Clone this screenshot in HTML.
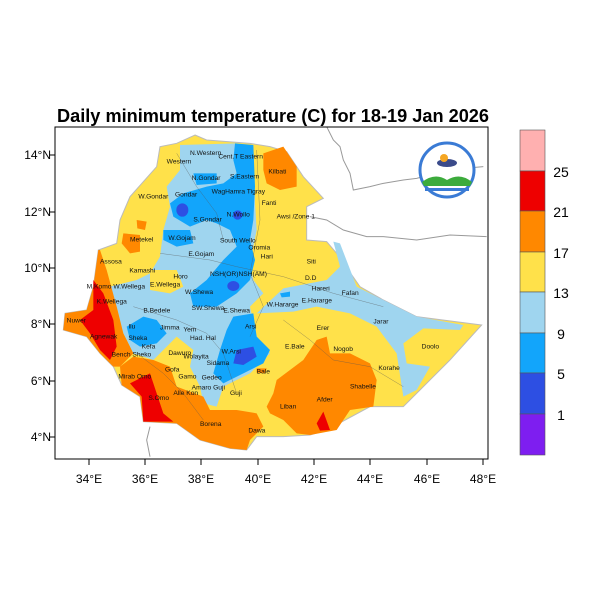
<!DOCTYPE html>
<html><head><meta charset="utf-8"><style>
html,body{margin:0;padding:0;background:#fff;width:600px;height:600px;overflow:hidden}
svg{display:block}
text{font-family:"Liberation Sans",Arial,sans-serif}
</style></head><body>
<svg width="600" height="600" viewBox="0 0 600 600">
<text x="273" y="122" font-size="18" font-weight="bold" text-anchor="middle" textLength="432" lengthAdjust="spacingAndGlyphs">Daily minimum temperature (C) for 18-19 Jan 2026</text>
<g transform="translate(50 120) scale(0.33333)" stroke="none">
<g fill="none" stroke="#999" stroke-width="3">
<path d="M830,20 L850,60 870,80 880,120 900,160 910,210 960,200 1000,190 1060,180 1100,175 1190,150 1300,140"/>
<path d="M780,290 L830,300 880,330 950,350 1000,350 1100,360 1200,345 1310,350"/>
<path d="M300,920 L290,960 300,1010"/>
</g>
<path fill="#ffe14a" stroke="#bbb" stroke-width="3" d="M435,45 L470,60 600,70 660,80 710,95 760,170 820,235 770,260 770,360 830,365 860,400 930,500 1000,540 1100,590 1295,615 1200,720 1110,810 1060,860 960,860 830,930 780,945 700,950 620,950 590,990 540,985 450,960 380,910 280,905 270,830 215,795 190,740 150,700 110,650 40,630 45,580 110,570 130,500 145,390 200,370 210,300 240,230 320,140 330,80 380,70 Z"/>
<g fill="#9fd5ef">
<path d="M390,75 L560,70 610,80 615,250 620,330 600,430 610,480 640,520 600,560 620,650 660,700 600,760 520,800 500,860 460,850 450,800 420,740 430,690 380,650 310,720 250,700 220,640 200,560 180,500 260,480 300,460 330,410 340,330 360,260 350,200 390,150 Z"/>
<path d="M620,580 L700,505 830,480 870,440 850,365 870,370 920,500 1000,540 1100,590 1240,615 1230,630 1120,625 1060,670 1070,730 1140,740 1100,810 1060,830 1040,700 980,620 900,580 800,560 730,575 Z"/>
</g>
<g fill="#ffe14a">
<path d="M300,450 L380,450 400,500 360,520 300,510 Z"/>
<path d="M700,360 L830,370 840,430 780,470 700,470 Z"/>
</g>
<g fill="#12a5fb">
<path d="M555,70 L610,75 615,200 610,300 600,360 615,420 600,480 560,520 500,560 430,560 420,520 470,480 520,420 560,380 540,330 500,310 470,300 420,320 370,290 360,250 400,220 470,200 520,190 560,160 550,120 Z"/>
<path d="M550,590 L610,580 620,650 660,690 640,730 580,760 520,790 490,760 510,690 530,630 Z"/>
<path d="M230,620 L280,590 320,600 350,640 320,670 270,680 240,660 Z"/>
<path d="M340,330 L420,330 430,370 380,380 340,360 Z"/>
<path d="M430,160 L500,160 500,190 440,195 Z"/>
<path d="M690,520 L720,515 720,530 695,532 Z"/>
</g>
<g fill="#2d4fe3">
<ellipse cx="397" cy="270" rx="18" ry="20"/>
<ellipse cx="563" cy="285" rx="14" ry="14"/>
<ellipse cx="550" cy="498" rx="18" ry="15"/>
<path d="M560,690 L610,680 620,710 580,735 550,730 Z"/>
</g>
<g fill="#ff8800">
<path d="M640,100 L700,80 740,140 740,200 690,210 650,190 640,150 Z"/>
<path d="M680,780 L760,720 800,660 830,650 840,700 900,700 960,730 980,780 970,860 900,870 860,930 780,945 740,940 700,900 660,880 650,860 670,820 Z"/>
<path d="M210,740 L250,710 310,720 360,740 380,800 460,830 480,870 560,870 620,880 640,920 600,960 590,990 540,985 450,960 380,910 280,905 270,830 215,795 Z"/>
<path d="M150,390 L170,450 200,560 220,640 250,700 210,740 190,740 150,700 110,650 40,630 45,580 110,570 130,500 145,390 Z"/>
<path d="M220,340 L270,345 270,395 240,400 215,370 Z"/>
<path d="M260,300 L290,305 285,330 262,325 Z"/>
<path d="M620,745 L650,745 645,760 620,758 Z"/>
</g>
<g fill="#ee0000">
<path d="M130,480 L160,520 190,600 200,680 180,720 150,690 120,640 90,600 130,570 Z"/>
<path d="M240,790 L300,760 320,820 340,880 370,905 280,905 275,830 Z"/>
<path d="M800,910 L820,875 840,930 810,932 Z"/>
</g>
<g fill="none" stroke="#555" stroke-width="1.5" opacity="0.6">
<path d="M620,90 L630,300 600,460 640,560 600,650"/>
<path d="M330,400 L480,420 560,440 700,470 850,520 1000,560"/>
<path d="M250,560 L380,600 470,640 520,700 560,820"/>
<path d="M700,600 L780,660 850,720 960,740 1060,800"/>
<path d="M380,100 L440,200 500,280 520,360"/>
<path d="M260,700 L340,760 400,820 460,900"/>
</g>
<g font-size="20" fill="#111">
<text x="420" y="105">N.Western</text><text x="350" y="130">Western</text><text x="505" y="115">Cent.T Eastern</text>
<text x="425" y="180">N.Gondar</text><text x="540" y="175">S.Eastern</text><text x="655" y="160">Kilbati</text>
<text x="265" y="235">W.Gondar</text><text x="375" y="230">Gondar</text><text x="485" y="220">WagHamra Tigray</text>
<text x="635" y="255">Fanti</text><text x="680" y="295">Awsi /Zone 1</text><text x="430" y="305">S.Gondar</text><text x="530" y="290">N.Wollo</text>
<text x="240" y="365">Metekel</text><text x="355" y="360">W.Gojam</text><text x="510" y="368">South Wello</text><text x="595" y="388">Oromia</text>
<text x="415" y="408">E.Gojam</text><text x="632" y="415">Hari</text><text x="770" y="430">Siti</text><text x="150" y="430">Assosa</text>
<text x="238" y="458">Kamashi</text><text x="370" y="475">Horo</text><text x="480" y="468">NSH(OR)NSH(AM)</text><text x="765" y="480">D.D</text>
<text x="110" y="505">M.Komo</text><text x="190" y="505">W.Wellega</text><text x="300" y="500">E.Wellega</text><text x="785" y="512">Hareri</text><text x="875" y="525">Fafan</text>
<text x="405" y="522">W.Shewa</text><text x="140" y="550">K.Wellega</text><text x="650" y="560">W.Hararge</text><text x="755" y="548">E.Hararge</text>
<text x="280" y="578">B.Bedele</text><text x="425" y="570">SW.Shewa</text><text x="520" y="578">E.Shewa</text><text x="50" y="607">Nuwer</text>
<text x="970" y="610">Jarar</text><text x="235" y="625">Ilu</text><text x="330" y="628">Jimma</text><text x="585" y="625">Arsi</text><text x="800" y="630">Erer</text>
<text x="400" y="635">Yem</text><text x="120" y="655">Agnewak</text><text x="235" y="660">Sheka</text><text x="420" y="660">Had. Hal</text>
<text x="275" y="685">Kefa</text><text x="1115" y="685">Doolo</text><text x="705" y="685">E.Bale</text><text x="850" y="693">Nogob</text>
<text x="185" y="710">Bench Sheko</text><text x="355" y="705">Dawuro</text><text x="400" y="715">Wolayita</text><text x="515" y="700">W.Arsi</text>
<text x="470" y="735">Sidama</text><text x="620" y="760">Bale</text><text x="985" y="750">Korahe</text><text x="345" y="755">Gofa</text>
<text x="205" y="775">Mirab Omo</text><text x="385" y="775">Gamo</text><text x="455" y="778">Gedeo</text><text x="900" y="805">Shabelle</text>
<text x="425" y="808">Amaro Guji</text><text x="540" y="825">Guji</text><text x="370" y="825">Alle Kon</text><text x="295" y="840">S.Omo</text>
<text x="800" y="845">Afder</text><text x="690" y="865">Liban</text><text x="450" y="918">Borena</text><text x="595" y="938">Dawa</text>
</g>
</g>
<g>
<circle cx="447" cy="170" r="27" fill="#fff" stroke="#3a7bd5" stroke-width="3"/>
<ellipse cx="447" cy="163" rx="10" ry="4" fill="#3a4a8a"/>
<circle cx="444" cy="158" r="4" fill="#f5a623"/>
<path d="M422,182 Q435,172 447,180 Q460,172 472,182 L470,186 L424,186 Z" fill="#3cab3c"/>
<rect x="425" y="188" width="44" height="3" fill="#3a7bd5"/>
</g>
<rect x="55" y="127" width="433" height="332" fill="none" stroke="#000" stroke-width="1"/>
<g stroke="#000" stroke-width="1">
<line x1="89" y1="459" x2="89" y2="465"/><line x1="145" y1="459" x2="145" y2="465"/><line x1="201" y1="459" x2="201" y2="465"/><line x1="258" y1="459" x2="258" y2="465"/><line x1="314" y1="459" x2="314" y2="465"/><line x1="370" y1="459" x2="370" y2="465"/><line x1="427" y1="459" x2="427" y2="465"/><line x1="483" y1="459" x2="483" y2="465"/>
<line x1="55" y1="155" x2="50" y2="155"/><line x1="55" y1="212" x2="50" y2="212"/><line x1="55" y1="268" x2="50" y2="268"/><line x1="55" y1="324" x2="50" y2="324"/><line x1="55" y1="381" x2="50" y2="381"/><line x1="55" y1="437" x2="50" y2="437"/>
</g>
<g font-size="12" fill="#000" text-anchor="middle">
<text x="89" y="483">34°E</text><text x="145" y="483">36°E</text><text x="201" y="483">38°E</text><text x="258" y="483">40°E</text><text x="314" y="483">42°E</text><text x="370" y="483">44°E</text><text x="427" y="483">46°E</text><text x="483" y="483">48°E</text>
</g>
<g font-size="12" fill="#000" text-anchor="end">
<text x="51" y="159">14°N</text><text x="51" y="216">12°N</text><text x="51" y="272">10°N</text><text x="51" y="328">8°N</text><text x="51" y="385">6°N</text><text x="51" y="441">4°N</text>
</g>
<g stroke="#555" stroke-width="0.6">
<rect x="520" y="130" width="25" height="41" fill="#ffb0b0"/>
<rect x="520" y="171" width="25" height="40" fill="#ee0000"/>
<rect x="520" y="211" width="25" height="41" fill="#ff8800"/>
<rect x="520" y="252" width="25" height="40" fill="#ffe14a"/>
<rect x="520" y="292" width="25" height="41" fill="#9fd5ef"/>
<rect x="520" y="333" width="25" height="40" fill="#12a5fb"/>
<rect x="520" y="373" width="25" height="41" fill="#2d4fe3"/>
<rect x="520" y="414" width="25" height="41" fill="#7e1ef0"/>
</g>
<g font-size="14" fill="#000" text-anchor="middle">
<text x="561" y="177">25</text><text x="561" y="217">21</text><text x="561" y="258">17</text><text x="561" y="298">13</text><text x="561" y="339">9</text><text x="561" y="379">5</text><text x="561" y="420">1</text>
</g>
</svg>
</body></html>
